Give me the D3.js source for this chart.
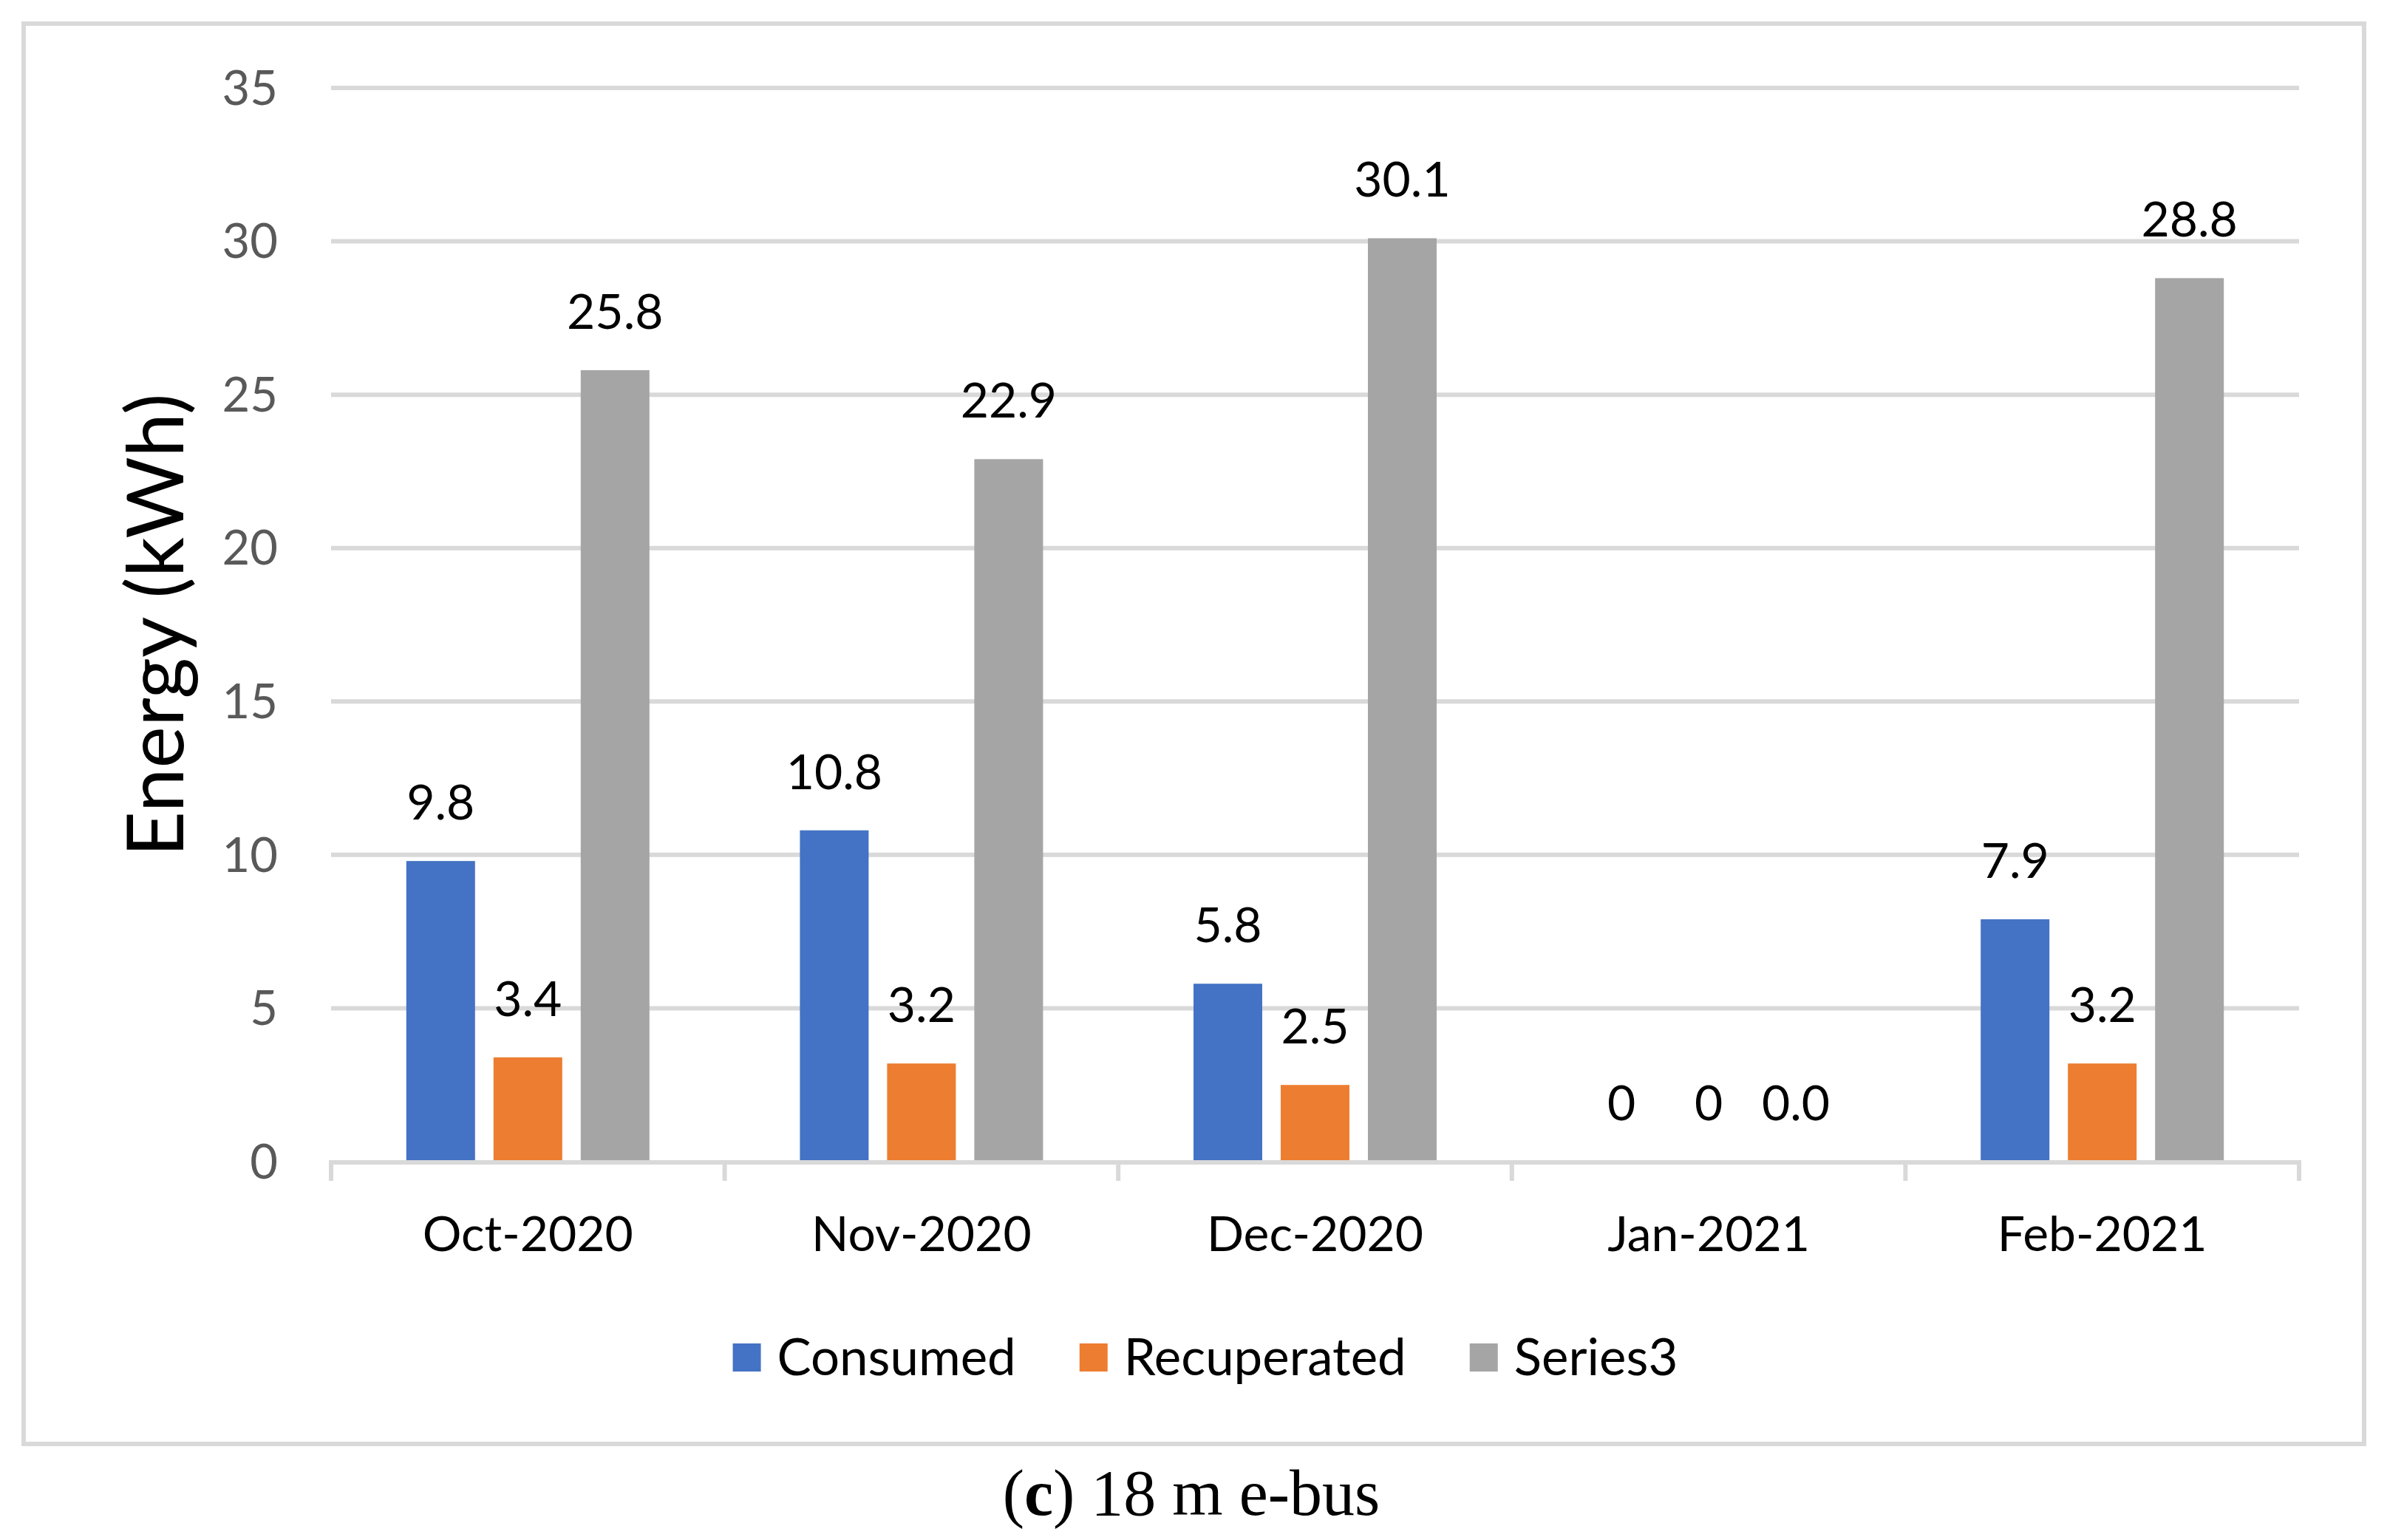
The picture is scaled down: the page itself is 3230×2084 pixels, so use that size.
<!DOCTYPE html>
<html>
<head>
<meta charset="utf-8">
<script src="https://cdn.jsdelivr.net/npm/d3@7"></script>
<style>
  html, body { margin: 0; padding: 0; background: #fff; }
  svg { display: block; }
</style>
</head>
<body>
<script>
// ---- data ----
const categories = ["Oct-2020", "Nov-2020", "Dec-2020", "Jan-2021", "Feb-2021"];
const seriesNames = ["Consumed", "Recuperated", "Series3"];
const consumed = [9.8, 10.8, 5.8, 0, 7.9];
const recuperated = [3.4, 3.2, 2.5, 0, 3.2];
const series3 = [25.8, 22.9, 30.1, 0.0, 28.8];
const consumedLabels = ["9.8", "10.8", "5.8", "0", "7.9"];
const recuperatedLabels = ["3.4", "3.2", "2.5", "0", "3.2"];
const series3Labels = ["25.8", "22.9", "30.1", "0.0", "28.8"];
const yTicks = [0, 5, 10, 15, 20, 25, 30, 35];
const colors = ["#4472C4", "#ED7D31", "#A5A5A5"];
const yTitle = "Energy (kWh)";

(function () {
const W = 3230, H = 2084;
const FONT = "Lato, 'Open Sans', sans-serif";
const svg = d3.select("body").append("svg").attr("width", W).attr("height", H);
svg.append("rect").attr("width", W).attr("height", H).attr("fill", "#fff");

// frame
svg.append("rect").attr("x", 32).attr("y", 32).attr("width", 3167).attr("height", 1922)
  .attr("fill", "none").attr("stroke", "#d9d9d9").attr("stroke-width", 6);

const pLeft = 448, pRight = 3111, pTop = 119, pBottom = 1572;
const x0 = d3.scaleBand().domain(categories).range([pLeft, pRight]).paddingInner(0).paddingOuter(0);
const y = d3.scaleLinear().domain([0, 35]).range([pBottom, pTop]);
const x1 = d3.scaleBand().domain(seriesNames).range([-164.5, 164.5]).paddingInner(25 / 118).paddingOuter(0);

// gridlines
svg.append("g").selectAll("line").data(yTicks.filter(d => d > 0)).join("line")
  .attr("x1", pLeft).attr("x2", pRight)
  .attr("y1", d => y(d)).attr("y2", d => y(d))
  .attr("stroke", "#d9d9d9").attr("stroke-width", 6);

// y tick labels
svg.append("g").selectAll("text").data(yTicks).join("text")
  .attr("x", 376).attr("y", d => y(d)).attr("dy", "0.35em")
  .attr("text-anchor", "end").attr("font-family", FONT).attr("font-size", 65)
  .attr("fill", "#595959").text(d => d);

// bars
const seriesData = [consumed, recuperated, series3];
const seriesLabels = [consumedLabels, recuperatedLabels, series3Labels];
const rows = [];
seriesNames.forEach((s, si) => {
  categories.forEach((c, ci) => {
    rows.push({ s, si, c, v: seriesData[si][ci], label: seriesLabels[si][ci] });
  });
});

svg.append("g").selectAll("rect").data(rows).join("rect")
  .attr("x", d => x0(d.c) + x0.bandwidth() / 2 + x1(d.s))
  .attr("width", x1.bandwidth())
  .attr("y", d => y(d.v))
  .attr("height", d => y(0) - y(d.v))
  .attr("fill", d => colors[d.si]);

// data labels
svg.append("g").selectAll("text").data(rows).join("text")
  .attr("x", d => x0(d.c) + x0.bandwidth() / 2 + x1(d.s) + x1.bandwidth() / 2)
  .attr("y", d => y(d.v) - 56)
  .attr("text-anchor", "middle").attr("font-family", FONT).attr("font-size", 66)
  .attr("fill", "#000").text(d => d.label);

// x axis
const xa = svg.append("g");
xa.append("line").attr("x1", pLeft - 3).attr("x2", pRight + 3).attr("y1", pBottom + 1).attr("y2", pBottom + 1)
  .attr("stroke", "#d9d9d9").attr("stroke-width", 6);
const tickPos = categories.map(c => x0(c)).concat([x0(categories[categories.length - 1]) + x0.bandwidth()]);
xa.selectAll("line.t").data(tickPos).join("line").attr("class", "t")
  .attr("x1", d => d).attr("x2", d => d).attr("y1", pBottom).attr("y2", pBottom + 26)
  .attr("stroke", "#d9d9d9").attr("stroke-width", 6);
xa.selectAll("text").data(categories).join("text")
  .attr("x", d => x0(d) + x0.bandwidth() / 2).attr("y", 1693)
  .attr("text-anchor", "middle").attr("font-family", FONT).attr("font-size", 66)
  .attr("fill", "#000").text(d => d);

// y title
svg.append("text")
  .attr("transform", "translate(248,846) rotate(-90)")
  .attr("text-anchor", "middle").attr("font-family", FONT).attr("font-size", 107)
  .attr("fill", "#000").text(yTitle);

// legend
const lg = svg.append("g");
const items = lg.selectAll("g").data(seriesNames).join("g");
items.append("rect").attr("width", 38).attr("height", 38).attr("y", 1818)
  .attr("fill", (d, i) => colors[i]);
items.append("text").attr("y", 1861).attr("font-family", FONT).attr("font-size", 69)
  .attr("fill", "#000").text(d => d);
const widths = [];
items.each(function () { widths.push(d3.select(this).select("text").node().getComputedTextLength()); });
const sqW = 38, gap1 = 22, gap2 = 86;
const total = widths.reduce((a, w) => a + sqW + gap1 + w, 0) + gap2 * (widths.length - 1);
let cx = 1631 - total / 2;
items.each(function (d, i) {
  const g = d3.select(this);
  g.select("rect").attr("x", cx);
  g.select("text").attr("x", cx + sqW + gap1);
  cx += sqW + gap1 + widths[i] + gap2;
});

// caption
const cap = svg.append("text").attr("x", 1612).attr("y", 2050).attr("text-anchor", "middle")
  .attr("font-family", "'Liberation Serif', 'DejaVu Serif', serif").attr("font-size", 88).attr("fill", "#000");
cap.append("tspan").text("(");
cap.append("tspan").attr("font-weight", "bold").text("c");
cap.append("tspan").text(") 18 m e-bus");
})();
</script>
</body>
</html>
